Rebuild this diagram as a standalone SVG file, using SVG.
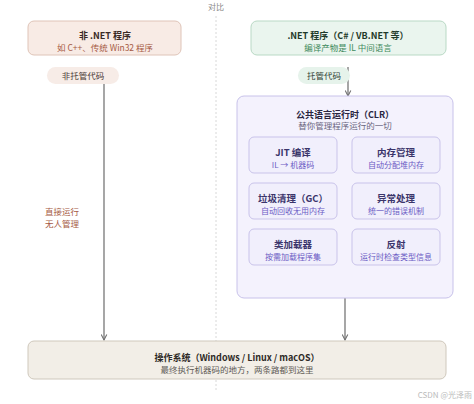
<svg xmlns="http://www.w3.org/2000/svg" width="474" height="404" viewBox="0 0 474 404">
<defs>
<marker id="arr" viewBox="0 0 10 10" refX="9" refY="5" markerWidth="7" markerHeight="7" orient="auto" markerUnits="userSpaceOnUse">
<path d="M1,1 L9,5 L1,9" fill="none" stroke="#6f6f6f" stroke-width="1.5"/>
</marker>
</defs>
<style>
text{font-family:"Noto Sans CJK SC","Noto Sans",sans-serif;text-anchor:middle}
.t{font-size:9px;font-weight:bold}
.s{font-size:8.5px}
.conn{stroke:#777;stroke-width:1.3;fill:none}
.sub{fill:#f1effc;stroke:#c9c3ea;stroke-width:1}
.st{fill:#3b356b;font-size:9.5px;font-weight:bold}
.ss{fill:#6b5bc4;font-size:8px}
</style>
<rect width="474" height="404" fill="#ffffff"/>
<text x="216" y="10" style="font-size:8px;fill:#888">对比</text>
<line x1="216" y1="16" x2="216" y2="392" stroke="#d8d8d8" stroke-width="1" stroke-dasharray="2,2"/>

<g id="connectors">
<line class="conn" x1="104" y1="84" x2="104" y2="340" marker-end="url(#arr)"/>
<line class="conn" x1="348" y1="67" x2="348" y2="96" marker-end="url(#arr)"/>
<line class="conn" x1="345" y1="298" x2="345" y2="340" marker-end="url(#arr)"/>
</g>

<g id="non-net">
<rect x="28" y="21" width="153" height="34" rx="6" fill="#f8ebe5" stroke="#dfc4b8"/>
<text x="105" y="38.5" class="t" fill="#3a2a26">非 .NET 程序</text>
<text x="105" y="51" class="s" fill="#a65a44">如 C++、传统 Win32 程序</text>
</g>
<g id="unmanaged-label">
<rect x="47" y="67" width="72" height="17" rx="8.5" fill="#f7ece7"/>
<text x="83" y="79" style="font-size:8.5px" fill="#4a3a36">非托管代码</text>
</g>
<g id="direct-label">
<text x="62" y="215" class="s" fill="#a65a44">直接运行</text>
<text x="62" y="227" class="s" fill="#a65a44">无人管理</text>
</g>

<g id="net">
<rect x="251" y="21" width="195" height="34" rx="6" fill="#eaf5ee" stroke="#b9d9c5"/>
<text x="348" y="38.5" class="t" fill="#1f3a2a">.NET 程序（C# / VB.NET 等）</text>
<text x="348" y="51" class="s" fill="#3e8a5c">编译产物是 IL 中间语言</text>
</g>
<g id="managed-label">
<rect x="298" y="67" width="52" height="17" rx="8.5" fill="#e6f3eb"/>
<text x="324" y="79" style="font-size:8.5px" fill="#2e3e34">托管代码</text>
</g>

<g id="clr">
<rect x="237" y="96" width="216" height="202" rx="7" fill="#f4f2fd" stroke="#c8c2ea"/>
<text x="345" y="117.5" class="t" fill="#2a2540">公共语言运行时（CLR）</text>
<text x="345" y="129" class="s" fill="#6a6680">替你管理程序运行的一切</text>
</g>
<g id="jit">
<rect class="sub" x="249" y="137" width="88" height="36" rx="5"/>
<text x="293" y="156" class="st">JIT 编译</text>
<text x="293" y="168" class="ss">IL → 机器码</text>
</g>
<g id="memory">
<rect class="sub" x="352" y="137" width="88" height="36" rx="5"/>
<text x="396" y="156" class="st">内存管理</text>
<text x="396" y="168" class="ss">自动分配堆内存</text>
</g>
<g id="gc">
<rect class="sub" x="249" y="183" width="88" height="36" rx="5"/>
<text x="293" y="202" class="st">垃圾清理（GC）</text>
<text x="293" y="214" class="ss">自动回收无用内存</text>
</g>
<g id="exception">
<rect class="sub" x="352" y="183" width="88" height="36" rx="5"/>
<text x="396" y="202" class="st">异常处理</text>
<text x="396" y="214" class="ss">统一的错误机制</text>
</g>
<g id="loader">
<rect class="sub" x="249" y="229" width="88" height="36" rx="5"/>
<text x="293" y="248" class="st">类加载器</text>
<text x="293" y="260" class="ss">按需加载程序集</text>
</g>
<g id="reflection">
<rect class="sub" x="352" y="229" width="88" height="36" rx="5"/>
<text x="396" y="248" class="st">反射</text>
<text x="396" y="260" class="ss">运行时检查类型信息</text>
</g>

<g id="os">
<rect x="28" y="341" width="418" height="38" rx="6" fill="#f2eee7" stroke="#cfc8bc"/>
<text x="237" y="360.5" class="t" fill="#2e2a26">操作系统（Windows / Linux / macOS）</text>
<text x="237" y="373" class="s" fill="#5e5a55">最终执行机器码的地方，两条路都到这里</text>
</g>
<text x="472" y="398" style="font-size:8px;fill:#bbb;text-anchor:end">CSDN @光泽雨</text>
</svg>
